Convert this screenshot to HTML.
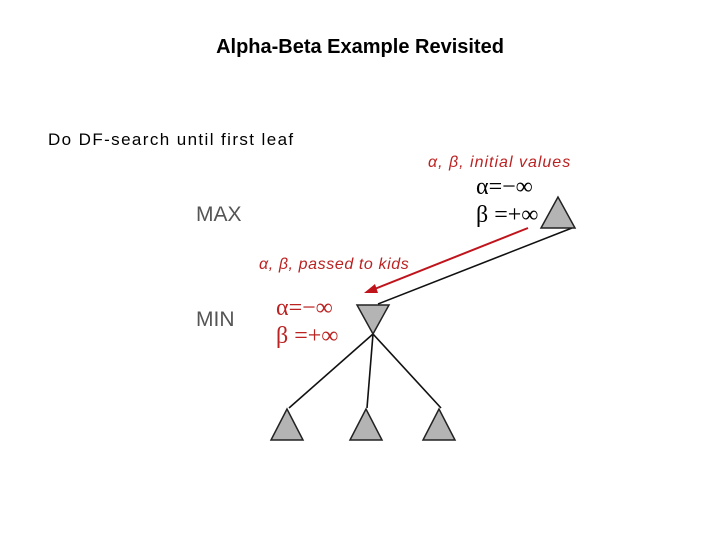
<!DOCTYPE html>
<html><head><style>
body{margin:0;width:720px;height:540px;background:#fff;position:relative;overflow:hidden;font-family:"Liberation Sans",sans-serif}
.t{position:absolute;white-space:nowrap}
</style></head><body>
<div class="t" style="left:0;width:720px;text-align:center;top:36px;font-size:20px;font-weight:bold;color:#000">Alpha-Beta Example Revisited</div>
<div class="t" style="left:48px;top:130px;font-size:17px;letter-spacing:1.4px">Do DF-search until first leaf</div>
<div class="t" style="left:428px;top:154px;font-size:16px;color:#b22;font-style:italic;letter-spacing:1px">α, β, initial values</div>
<div class="t" style="left:476px;top:174px;font-size:24px;font-family:'Liberation Serif',serif">α=−∞</div>
<div class="t" style="left:476px;top:202px;font-size:24px;font-family:'Liberation Serif',serif">β =+∞</div>
<div class="t" style="left:196px;top:203px;font-size:21px;color:#555">MAX</div>
<div class="t" style="left:196px;top:308px;font-size:21px;color:#555">MIN</div>
<div class="t" style="left:259px;top:256px;font-size:16px;color:#b22;font-style:italic;letter-spacing:0.6px">α, β, passed to kids</div>
<div class="t" style="left:276px;top:295px;font-size:24px;color:#b22;font-family:'Liberation Serif',serif">α=−∞</div>
<div class="t" style="left:276px;top:323px;font-size:24px;color:#b22;font-family:'Liberation Serif',serif">β =+∞</div>
<svg width="720" height="540" style="position:absolute;left:0;top:0">
<g stroke="#111" stroke-width="1.6">
<line x1="572" y1="228" x2="378" y2="304"/>
<line x1="373" y1="334" x2="289" y2="408"/>
<line x1="373" y1="334" x2="367" y2="408"/>
<line x1="373" y1="334" x2="441" y2="408"/>
</g>
<line x1="528" y1="228" x2="372" y2="290" stroke="#c0141c" stroke-width="2"/>
<polygon points="364,293 375,284 378,293" fill="#c0141c"/>
<g fill="#b4b4b4" stroke="#222" stroke-width="1.5">
<polygon points="558,197 541,228 575,228"/>
<polygon points="357,305 389,305 373,334"/>
<polygon points="287,409 271,440 303,440"/>
<polygon points="366,409 350,440 382,440"/>
<polygon points="439,409 423,440 455,440"/>
</g>
</svg>
</body></html>
